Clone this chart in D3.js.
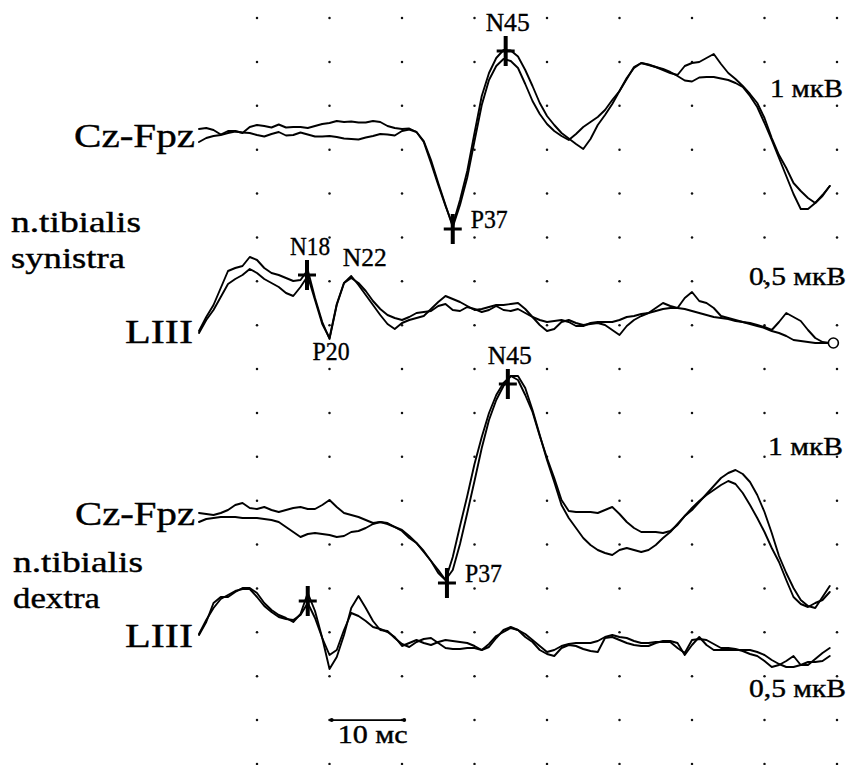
<!DOCTYPE html>
<html>
<head>
<meta charset="utf-8">
<script src="https://cdn.jsdelivr.net/npm/d3@7"></script>
<style>
  html, body { margin: 0; padding: 0; background: #fff; }
  svg { display: block; }
</style>
</head>
<body>
<svg id="chart" width="848" height="765"></svg>
<script>
// Somatosensory evoked potentials, n. tibialis stimulation.
// Two averaged runs per lead; latency in ms, amplitude in µV (negative up).

// sample clock, ms
const sampleTimes = [
  2, 3, 4, 5, 6, 7, 8, 9, 10, 11,
  12, 13, 14, 15, 16, 17, 18, 19, 20, 21,
  22, 23, 24, 25, 26, 27, 28, 29, 30, 31,
  32, 33, 34, 35, 36, 37, 38, 39, 40, 41,
  42, 43, 44, 45, 46, 47, 48, 49, 50, 51,
  52, 53, 54, 55, 56, 57, 58, 59, 60, 61,
  62, 63, 64, 65, 66, 67, 68, 69, 70, 71,
  72, 73, 74, 75, 76, 77, 78, 79, 80, 81,
  82, 83, 84, 85, 86, 87, 88, 89
];

// Cz-Fpz, left tibial nerve, µV
const czSinRun1 = [
  -0.02, -0.04, 0, 0.09, 0.02, 0.02, 0.06, -0.06, -0.10, -0.08,
  -0.05, -0.11, -0.05, -0.06, -0.06, -0.04, -0.08, -0.12, -0.14, -0.18,
  -0.16, -0.17, -0.15, -0.15, -0.18, -0.16, -0.08, -0.04, -0.02, -0.03,
  0.04, 0.24, 0.66, 1.10, 1.52, 1.90, 1.40, 0.82, 0.06, -0.68,
  -1.14, -1.44, -1.60, -1.59, -1.47, -1.20, -0.88, -0.54, -0.28, -0.10,
  0.06, 0.17, 0.28, 0.38, 0.18, -0.10, -0.30, -0.52, -0.78, -1.04,
  -1.24, -1.34, -1.31, -1.26, -1.22, -1.16, -1.08, -0.99, -0.97, -1.05,
  -1.06, -1.06, -1.03, -1.00, -0.94, -0.86, -0.68, -0.46, -0.14, 0.20,
  0.56, 0.92, 1.28, 1.58, 1.58, 1.46, 1.30, 1.12
];
const czSinRun2 = [
  0.24, 0.16, 0.12, 0.10, 0.06, 0.03, 0.05, 0.06, 0.10, 0.13,
  0.08, 0.04, 0.11, 0.10, 0.05, 0.09, 0.13, 0.13, 0.12, 0.14,
  0.17, 0.18, 0.19, 0.15, 0.12, 0.08, 0.09, 0.11, 0.02, -0.01,
  0.04, 0.22, 0.60, 1.06, 1.50, 1.94, 1.50, 0.95, 0.22, -0.50,
  -1.00, -1.28, -1.42, -1.38, -1.24, -0.92, -0.58, -0.32, -0.12, 0.02,
  0.12, 0.20, 0.08, -0.06, -0.16, -0.26, -0.40, -0.60, -0.78, -1.02,
  -1.26, -1.34, -1.30, -1.26, -1.20, -1.14, -1.10, -1.28, -1.34, -1.36,
  -1.44, -1.52, -1.32, -1.14, -1.02, -0.88, -0.72, -0.54, -0.24, 0.16,
  0.50, 0.76, 1.06, 1.22, 1.36, 1.46, 1.32, 1.12
];

// LIII, left tibial nerve, µV
const lSinRun1 = [
  0.31, 0.17, 0.05, -0.12, -0.29, -0.32, -0.34, -0.43, -0.40, -0.32,
  -0.27, -0.25, -0.22, -0.19, -0.20, -0.30, -0.02, 0.22, 0.39, 0.05,
  -0.17, -0.24, -0.15, -0.05, 0.05, 0.15, 0.24, 0.29, 0.23, 0.20,
  0.18, 0.16, 0.09, 0.02, -0.04, -0.01, 0.02, 0.06, 0.10, 0.09,
  0.07, 0.05, 0.05, 0.04, 0.03, 0.09, 0.17, 0.25, 0.31, 0.29,
  0.22, 0.20, 0.23, 0.25, 0.24, 0.23, 0.25, 0.30, 0.35, 0.26,
  0.20, 0.16, 0.13, 0.08, 0.03, 0.06, 0.08, -0.02, -0.08, 0.01,
  0.03, 0.08, 0.16, 0.18, 0.20, 0.22, 0.23, 0.25, 0.27, 0.30,
  0.22, 0.13, 0.17, 0.21, 0.30, 0.38, 0.42, 0.43
];
const lSinRun2 = [
  0.33, 0.20, 0.10, -0.03, -0.16, -0.21, -0.25, -0.31, -0.27, -0.21,
  -0.17, -0.13, -0.07, -0.04, -0.13, -0.24, 0.00, 0.24, 0.38, 0.04,
  -0.17, -0.22, -0.17, -0.09, 0.01, 0.09, 0.15, 0.18, 0.20, 0.17,
  0.13, 0.12, 0.11, 0.06, 0.04, 0.10, 0.11, 0.07, 0.09, 0.12,
  0.10, 0.06, 0.10, 0.11, 0.09, 0.13, 0.17, 0.20, 0.22, 0.21,
  0.20, 0.22, 0.26, 0.26, 0.23, 0.22, 0.22, 0.22, 0.20, 0.17,
  0.16, 0.14, 0.13, 0.11, 0.09, 0.08, 0.08, 0.09, 0.11, 0.13,
  0.15, 0.17, 0.18, 0.19, 0.21, 0.22, 0.24, 0.26, 0.28, 0.31,
  0.33, 0.36, 0.40, 0.41, 0.42, 0.43, 0.43, 0.43
];

// Cz-Fpz, right tibial nerve, µV
const czDexRun1 = [
  -0.04, -0.02, 0, -0.04, -0.10, -0.20, -0.24, -0.14, -0.12, -0.16,
  -0.10, -0.06, -0.10, -0.14, -0.16, -0.12, -0.12, -0.20, -0.30, -0.16,
  -0.04, 0, 0.04, 0.10, 0.16, 0.14, 0.16, 0.24, 0.30, 0.42,
  0.56, 0.74, 0.92, 1.10, 1.30, 0.84, 0.22, -0.38, -1.02, -1.56,
  -2.04, -2.40, -2.64, -2.78, -2.70, -2.40, -2.06, -1.58, -1.14, -0.74,
  -0.30, -0.08, -0.06, -0.06, -0.06, -0.04, -0.10, -0.16, -0.02, 0.14,
  0.26, 0.34, 0.34, 0.34, 0.36, 0.32, 0.20, 0.02, -0.10, -0.26,
  -0.42, -0.58, -0.74, -0.84, -0.90, -0.82, -0.66, -0.40, -0.06, 0.36,
  0.82, 1.16, 1.46, 1.70, 1.82, 1.86, 1.64, 1.42
];
const czDexRun2 = [
  0.14, 0.08, 0.06, 0.04, 0.04, 0.04, 0.06, 0.06, 0.06, 0.08,
  0.10, 0.14, 0.24, 0.34, 0.44, 0.38, 0.36, 0.38, 0.40, 0.44,
  0.42, 0.34, 0.32, 0.26, 0.18, 0.14, 0.18, 0.24, 0.32, 0.46,
  0.56, 0.72, 0.92, 1.16, 1.30, 1.10, 0.58, -0.04, -0.68, -1.34,
  -1.90, -2.30, -2.58, -2.78, -2.78, -2.54, -2.10, -1.60, -1.10, -0.66,
  -0.20, 0.06, 0.26, 0.46, 0.60, 0.70, 0.76, 0.80, 0.70, 0.66,
  0.70, 0.74, 0.70, 0.60, 0.46, 0.34, 0.18, 0.02, -0.14, -0.28,
  -0.40, -0.50, -0.60, -0.68, -0.62, -0.44, -0.20, 0.06, 0.34, 0.66,
  0.94, 1.30, 1.64, 1.78, 1.84, 1.76, 1.70, 1.54
];

// LIII, right tibial nerve, µV
const lDexRun1 = [
  0.00, -0.13, -0.32, -0.38, -0.38, -0.43, -0.47, -0.47, -0.42, -0.32,
  -0.25, -0.20, -0.17, -0.13, -0.21, -0.42, -0.24, 0.03, 0.34, 0.22,
  0.00, -0.27, -0.39, -0.27, -0.14, -0.05, -0.04, 0.03, 0.09, 0.12,
  0.07, 0.04, 0.03, 0.08, 0.13, 0.14, 0.14, 0.13, 0.13, 0.15,
  0.12, 0.03, -0.05, -0.08, -0.05, -0.01, 0.05, 0.11, 0.17, 0.15,
  0.11, 0.09, 0.08, 0.08, 0.08, 0.06, 0.02, 0.00, 0.02, 0.03,
  0.06, 0.08, 0.08, 0.07, 0.07, 0.07, 0.13, 0.18, 0.05, 0.04,
  0.05, 0.09, 0.13, 0.13, 0.14, 0.16, 0.19, 0.21, 0.26, 0.32,
  0.30, 0.26, 0.21, 0.30, 0.30, 0.24, 0.18, 0.13
];
const lDexRun2 = [
  -0.01, -0.15, -0.27, -0.36, -0.40, -0.44, -0.46, -0.46, -0.38, -0.29,
  -0.23, -0.18, -0.16, -0.15, -0.20, -0.32, -0.17, 0.03, 0.20, 0.15,
  -0.05, -0.22, -0.19, -0.14, -0.08, -0.06, -0.03, 0.02, 0.11, 0.08,
  0.05, 0.08, 0.10, 0.07, 0.05, 0.06, 0.07, 0.08, 0.11, 0.15,
  0.09, 0.01, -0.03, -0.07, -0.05, 0.02, 0.07, 0.15, 0.19, 0.21,
  0.13, 0.10, 0.11, 0.14, 0.16, 0.17, 0.03, 0.02, 0.05, 0.08,
  0.10, 0.11, 0.11, 0.08, 0.06, 0.06, 0.08, 0.20, 0.10, 0.02,
  0.10, 0.15, 0.15, 0.15, 0.15, 0.15, 0.15, 0.17, 0.20, 0.25,
  0.29, 0.32, 0.32, 0.30, 0.27, 0.27, 0.26, 0.21
];

// identified peaks: lead index, name, latency (ms), amplitude (µV), marked with a cross
const peakLead    = [0, 0, 1, 1, 1, 2, 2, 3];
const peakNames   = ["N45", "P37", "N18", "N22", "P20", "N45", "P37", ""];
const peakLatency = [44.3, 37.0, 16.9, 22.8, 19.8, 44.6, 36.2, 17.0];
const peakAmp     = [-1.58, 1.98, -0.25, -0.24, 0.39, -2.62, 1.36, -0.34];
const peakCross   = [true, true, true, false, false, true, true, true];

// grid: one column per 10 ms
const gridTimes = [10, 20, 30, 40, 50, 60, 70, 80, 90];
const gridRowCount = 18;

// calibration text per lead
const calibLabels = ["1 мкВ", "0,5 мкВ", "1 мкВ", "0,5 мкВ"];
const timeBar = { from: 20.3, to: 30.3, label: "10 мс" };

// ---------------------------------------------------------------------------

const svg = d3.select("#chart");
const FONT = "'Liberation Serif', 'Times New Roman', serif";

const x = d3.scaleLinear().domain([0, 90]).range([184.5, 837]);
const gridY = d3.scaleLinear().domain([0, gridRowCount - 1]).range([18, 764]);

// each lead: baseline (px) and gain (px per µV); negative deflection goes up
const leads = [
  { runs: [czSinRun1, czSinRun2], base: 130, gain: 50 },
  { runs: [lSinRun1,  lSinRun2],  base: 300, gain: 100 },
  { runs: [czDexRun1, czDexRun2], base: 515, gain: 50 },
  { runs: [lDexRun1,  lDexRun2],  base: 635, gain: 100 }
];
leads.forEach(l => {
  l.y = d3.scaleLinear().domain([0, 1]).range([l.base, l.base + l.gain]);
});

// dot grid
const dots = [];
d3.range(gridRowCount).forEach(r => gridTimes.forEach(t => dots.push([t, r])));
svg.append("g").attr("class", "grid")
  .selectAll("circle").data(dots).join("circle")
  .attr("cx", d => x(d[0]))
  .attr("cy", d => gridY(d[1]))
  .attr("r", 1.25)
  .attr("fill", "#111");

// traces
const traceG = svg.append("g").attr("class", "traces");
leads.forEach(l => {
  const line = d3.line()
    .x((d, i) => x(sampleTimes[i]))
    .y(d => l.y(d));
  l.runs.forEach(run => {
    traceG.append("path")
      .datum(run)
      .attr("d", line)
      .attr("fill", "none")
      .attr("stroke", "#000")
      .attr("stroke-width", 1.9)
      .attr("stroke-linejoin", "round")
      .attr("stroke-linecap", "round");
  });
});

// small loop at the end of the left lumbar record
{
  const l = leads[1];
  const last = sampleTimes[sampleTimes.length - 1];
  svg.append("circle")
    .attr("cx", x(last + 0.5))
    .attr("cy", l.y(lSinRun1[lSinRun1.length - 1]))
    .attr("r", 5)
    .attr("fill", "#fff")
    .attr("stroke", "#000")
    .attr("stroke-width", 1.6);
}

// peak crosses and names
const peakG = svg.append("g").attr("class", "peaks");
const labelOffset = {
  N45: { dx: 2, dy: -20, anchor: "middle" },
  P37: { dx: 18, dy: -1, anchor: "start" },
  N18: { dx: 3, dy: -20, anchor: "middle" },
  N22: { dx: -7, dy: -10, anchor: "start" },
  P20: { dx: 3, dy: 21, anchor: "middle" }
};
const labelWidth = { N45: 44, P37: 37, N18: 40, N22: 44, P20: 37 };
peakNames.forEach((name, i) => {
  const l = leads[peakLead[i]];
  const px = x(peakLatency[i]);
  const py = l.y(peakAmp[i]);
  if (peakCross[i]) {
    peakG.append("line")
      .attr("x1", px).attr("x2", px)
      .attr("y1", py - 15).attr("y2", py + 15)
      .attr("stroke", "#000").attr("stroke-width", 4);
    peakG.append("line")
      .attr("x1", px - 9).attr("x2", px + 9)
      .attr("y1", py).attr("y2", py)
      .attr("stroke", "#000").attr("stroke-width", 3);
  }
  if (name) {
    const o = labelOffset[name];
    peakG.append("text")
      .attr("x", px + o.dx)
      .attr("y", py + o.dy)
      .attr("text-anchor", o.anchor)
      .attr("font-family", FONT)
      .attr("font-size", 25)
      .attr("textLength", labelWidth[name])
      .attr("lengthAdjust", "spacingAndGlyphs")
      .attr("fill", "#000")
      .attr("stroke", "#000")
      .attr("stroke-width", 0.35)
      .text(name);
  }
});

// text helper: left-anchored, stretched to a given width
function label(text, tx, ty, size, width) {
  svg.append("text")
    .attr("x", tx).attr("y", ty)
    .attr("font-family", FONT)
    .attr("font-size", size)
    .attr("textLength", width)
    .attr("lengthAdjust", "spacingAndGlyphs")
    .attr("fill", "#000")
    .attr("stroke", "#000")
    .attr("stroke-width", 0.4)
    .text(text);
}

// lead names
label("Cz-Fpz", 74, 147, 33, 121);
label("n.tibialis", 11, 232, 29, 130);
label("synistra", 11, 268, 29, 114);
label("LIII", 125, 343, 34, 68);
label("Cz-Fpz", 75, 525, 33, 120);
label("n.tibialis", 13, 572, 29, 130);
label("dextra", 13, 608, 29, 87);
label("LIII", 125, 647, 34, 68);

// amplitude calibration
label(calibLabels[0], 770, 97, 25, 73);
label(calibLabels[1], 749, 285, 25, 97);
label(calibLabels[2], 768, 455, 25, 75);
label(calibLabels[3], 749, 697, 25, 97);

// time calibration bar
{
  const by = gridY(16);
  const bar = svg.append("g").attr("class", "timebar");
  bar.append("line")
    .attr("x1", x(timeBar.from)).attr("x2", x(timeBar.to))
    .attr("y1", by).attr("y2", by)
    .attr("stroke", "#000").attr("stroke-width", 1.8);
  [timeBar.from, timeBar.to].forEach(t => {
    bar.append("circle").attr("cx", x(t)).attr("cy", by).attr("r", 2).attr("fill", "#000");
  });
  label(timeBar.label, x(timeBar.from) + 6, by + 23, 25, 70);
}
</script>
</body>
</html>
